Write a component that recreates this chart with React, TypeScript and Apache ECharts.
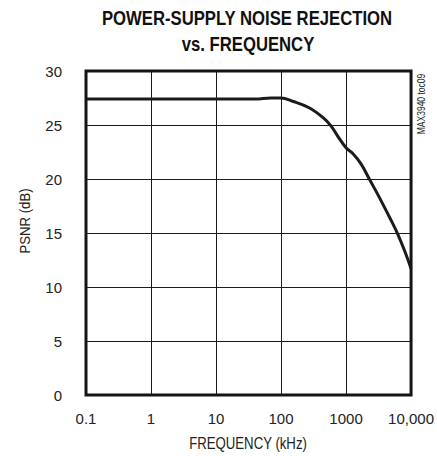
import React, { useEffect, useRef } from "react";
import * as echarts from "echarts";

const titleLines = ["POWER-SUPPLY NOISE REJECTION", "vs. FREQUENCY"];
const xAxisTitle = "FREQUENCY (kHz)";
const yAxisTitle = "PSNR (dB)";
const partLabel = "MAX3940 toc09";

// frequency (kHz) and PSNR (dB)
const freqKHz = [0.1, 1, 10, 40, 70, 100, 150, 270, 440, 590, 740, 1000, 1300, 1700, 2280, 3250, 4900, 6240, 7900, 10000];
const psnrDb = [27.4, 27.4, 27.4, 27.4, 27.5, 27.5, 27.2, 26.6, 25.7, 24.9, 24.0, 22.9, 22.3, 21.4, 20.0, 18.3, 16.2, 14.9, 13.4, 11.7];

const xTickLabels: Record<string, string> = {
  "0.1": "0.1",
  "1": "1",
  "10": "10",
  "100": "100",
  "1000": "1000",
  "10000": "10,000",
};

const FONT = "'Liberation Sans', Arial, sans-serif";

export default function App() {
  const ref = useRef<HTMLDivElement>(null);
  useEffect(() => {
    if (!ref.current) return;
    const chart = echarts.init(ref.current, undefined, { renderer: "svg" });
    const data = freqKHz.map((f, i) => [f, psnrDb[i]]);
    chart.setOption({
      animation: false,
      backgroundColor: "#ffffff",
      grid: {
        left: 86,
        right: 25,
        top: 71,
        bottom: 61,
        show: true,
        borderWidth: 3,
        borderColor: "#151515",
        backgroundColor: "transparent",
        z: 10,
      },
      xAxis: {
        type: "log",
        logBase: 10,
        min: 0.1,
        max: 10000,
        axisLine: { show: false },
        axisTick: { show: false },
        minorTick: { show: false },
        splitLine: { show: true, lineStyle: { color: "#1a1a1a", width: 1 } },
        axisLabel: {
          margin: 16,
          color: "#222",
          fontFamily: FONT,
          fontSize: 15,
          formatter: (v: number) => {
            const key = String(parseFloat(v.toPrecision(6)));
            return xTickLabels[key] ?? key;
          },
        },
      },
      yAxis: {
        type: "value",
        min: 0,
        max: 30,
        interval: 5,
        axisLine: { show: false },
        axisTick: { show: false },
        splitLine: { show: true, lineStyle: { color: "#1a1a1a", width: 1 } },
        axisLabel: {
          margin: 24,
          color: "#222",
          fontFamily: FONT,
          fontSize: 15,
        },
      },
      graphic: [
        {
          type: "text",
          x: 247,
          y: 19,
          scaleX: 0.856,
          style: {
            text: titleLines[0],
            fontFamily: FONT,
            fontWeight: "bold",
            fontSize: 19.5,
            fill: "#111",
            textAlign: "center",
            textVerticalAlign: "middle",
          },
        },
        {
          type: "text",
          x: 248,
          y: 44.5,
          scaleX: 0.856,
          style: {
            text: titleLines[1],
            fontFamily: FONT,
            fontWeight: "bold",
            fontSize: 19.5,
            fill: "#111",
            textAlign: "center",
            textVerticalAlign: "middle",
          },
        },
        {
          type: "text",
          x: 248,
          y: 444,
          scaleX: 0.825,
          style: {
            text: xAxisTitle,
            fontFamily: FONT,
            fontSize: 16,
            fill: "#222",
            textAlign: "center",
            textVerticalAlign: "middle",
          },
        },
        {
          type: "text",
          x: 25,
          y: 221,
          rotation: Math.PI / 2,
          scaleX: 0.88,
          style: {
            text: yAxisTitle,
            fontFamily: FONT,
            fontSize: 15,
            fill: "#222",
            textAlign: "center",
            textVerticalAlign: "middle",
          },
        },
        {
          type: "text",
          x: 422,
          y: 104,
          rotation: Math.PI / 2,
          scaleX: 0.85,
          style: {
            text: partLabel,
            fontFamily: FONT,
            fontSize: 10,
            fill: "#222",
            textAlign: "center",
            textVerticalAlign: "middle",
          },
        },
      ],
      series: [
        {
          type: "line",
          data,
          smooth: 0.4,
          showSymbol: false,
          symbol: "none",
          lineStyle: { color: "#1e1a1a", width: 3 },
          z: 5,
        },
      ],
    });
    return () => chart.dispose();
  }, []);
  return (
    <div
      ref={ref}
      style={{ position: "absolute", left: 0, top: 0, width: 437, height: 456 }}
    />
  );
}
